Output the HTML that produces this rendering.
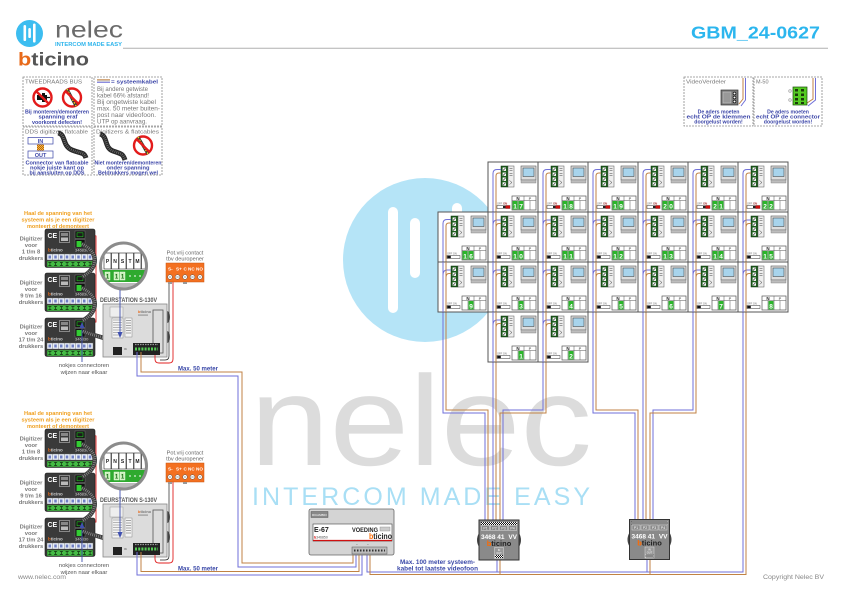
<!DOCTYPE html>
<html><head><meta charset="utf-8"><style>
html,body{margin:0;padding:0;background:#fff;}
svg{display:block;}
</style></head><body>
<svg width="841" height="595" viewBox="0 0 841 595" xmlns="http://www.w3.org/2000/svg" font-family="'Liberation Sans', sans-serif">
<defs>
<pattern id="chk" width="2" height="2" patternUnits="userSpaceOnUse"><rect width="2" height="2" fill="#fff"/><rect width="1" height="1" fill="#111"/><rect x="1" y="1" width="1" height="1" fill="#111"/></pattern>
<pattern id="chkO" width="2" height="2" patternUnits="userSpaceOnUse"><rect width="2" height="2" fill="#f0c040"/><rect width="1" height="1" fill="#c06010"/><rect x="1" y="1" width="1" height="1" fill="#c06010"/></pattern>
<clipPath id="lensclip"><circle cx="123.5" cy="266" r="23"/></clipPath>

<g id="cell">
 <rect x="0" y="0" width="50" height="50" fill="#fff" stroke="#555" stroke-width="1"/>
 <rect x="13" y="4" width="7" height="21" fill="#1d5e1d" stroke="#0a2a0a" stroke-width="0.5"/>
 <g fill="#fff"><rect x="14.6" y="5.5" width="3.4" height="3.4"/><rect x="14.6" y="10.5" width="3.4" height="3.4"/><rect x="14.6" y="15.5" width="3.4" height="3.4"/><rect x="14.6" y="20.3" width="3.4" height="3.4"/></g>
 <path d="M15 8.5l2.6-2.6M15 13.5l2.6-2.6M15 18.5l2.6-2.6M15 23.3l2.6-2.6" stroke="#111" stroke-width="0.6"/>
 <rect x="20" y="4" width="6" height="21" fill="#eee" stroke="#555" stroke-width="0.5"/>
 <path d="M21.5 6.5h3M21.5 8.5h3M21.5 11.5h3M21.5 13.5h3M21.5 18.5l2.5 2l-2.5 2" stroke="#444" stroke-width="0.5" fill="none"/>
 <rect x="33" y="4" width="15" height="14" fill="#ddd" stroke="#555" stroke-width="0.6"/>
 <rect x="35" y="6" width="11" height="8.5" fill="#a8d4ec" stroke="#333" stroke-width="0.5"/>
 <rect x="33" y="18" width="15" height="3" fill="#bdbdbd" stroke="#777" stroke-width="0.4"/>
 <rect x="24" y="34" width="24" height="14" fill="#fff" stroke="#555" stroke-width="0.7"/>
 <path d="M36 34V48M24 38.5H48M30 38.5V48M42 38.5V48" stroke="#555" stroke-width="0.5"/>
 <text x="30" y="38" font-size="4.5" font-weight="bold" text-anchor="middle" fill="#222">N</text>
 <text x="42" y="38" font-size="4" text-anchor="middle" fill="#444">P</text>
 <text x="9" y="42.3" font-size="2.6" fill="#666">OFF ON</text>
 <rect x="9" y="43.5" width="13" height="3" fill="#fff" stroke="#333" stroke-width="0.5"/>
</g>
<g id="swOff"><rect x="9.3" y="43.8" width="3.5" height="2.4" fill="#111"/></g>
<g id="swOn"><rect x="17.5" y="43.5" width="4.5" height="3" fill="#d01010"/><rect x="15" y="44" width="2.5" height="2" fill="#222"/><text x="15.3" y="42.3" font-size="2.6" fill="#d01010">ON</text></g>
<g id="wT" fill="none" stroke-width="1">
 <path d="M13 7.5H9Q5 7.5 5 11.5V50" stroke="#6f6fd8"/>
 <path d="M13 11H11Q8 11 8 14V50" stroke="#c08244"/>
</g>
<g id="wM" fill="none" stroke-width="1">
 <path d="M5 0V50M5 13Q5 8 9 8H13" stroke="#6f6fd8"/>
 <path d="M8 0V50M8 15.5Q8 11.5 11 11.5H13" stroke="#c08244"/>
</g>

<g id="nosign">
 <circle r="9" fill="#fff" stroke="#e31b1b" stroke-width="2.4"/>
</g>

<g id="digi">
 <rect x="0" y="0" width="50" height="38.5" rx="2" fill="#3a3a3a" stroke="#1a1a1a" stroke-width="0.6"/>
 <text x="2.5" y="9" font-size="7" font-weight="bold" fill="#fff">CE</text>
 <rect x="14.5" y="2.5" width="10" height="11" fill="none" stroke="#bbb" stroke-width="0.6"/>
 <rect x="16" y="4" width="7" height="3" fill="#888"/>
 <rect x="16" y="8.5" width="7" height="3.5" fill="#bbb"/>
 <rect x="30" y="2" width="10" height="7.5" fill="#111" stroke="#777" stroke-width="0.5"/>
 <rect x="32" y="3.8" width="6" height="4" fill="#1a1a1a" stroke="#2c2" stroke-width="0.6"/>
 <rect x="30" y="10.5" width="10" height="8.5" fill="#111" stroke="#777" stroke-width="0.5"/>
 <rect x="31.5" y="12" width="5" height="6" fill="#3c3"/>
 <text x="3" y="22.5" font-size="4.5" font-weight="bold"><tspan fill="#e86a1a">b</tspan><tspan fill="#ccc">ticino</tspan></text>
 <text x="30" y="22.5" font-size="4" fill="#ccc">346830</text>
 <rect x="2" y="25" width="46" height="6" fill="#e8eef8" stroke="#666" stroke-width="0.4"/>
 <path d="M7.75 25v6M13.5 25v6M19.25 25v6M25 25v6M30.75 25v6M36.5 25v6M42.25 25v6" stroke="#666" stroke-width="0.4"/>
 <g fill="#6f7fc4"><rect x="3.5" y="26.5" width="2.5" height="3"/><rect x="9.25" y="26.5" width="2.5" height="3"/><rect x="15" y="26.5" width="2.5" height="3"/><rect x="20.75" y="26.5" width="2.5" height="3"/><rect x="26.5" y="26.5" width="2.5" height="3"/><rect x="32.25" y="26.5" width="2.5" height="3"/><rect x="38" y="26.5" width="2.5" height="3"/><rect x="43.75" y="26.5" width="2.5" height="3"/></g>
 <rect x="2" y="32" width="46" height="6" fill="#44bb44" stroke="#222" stroke-width="0.4"/>
 <path d="M3.4 33.5h3M4.9 33.5v3M3.4 36.5h3M9.1 33.5h3M10.6 33.5v3M9.1 36.5h3M14.9 33.5h3M16.4 33.5v3M14.9 36.5h3M20.6 33.5h3M22.1 33.5v3M20.6 36.5h3M26.4 33.5h3M27.9 33.5v3M26.4 36.5h3M32.1 33.5h3M33.6 33.5v3M32.1 36.5h3M37.9 33.5h3M39.4 33.5v3M37.9 36.5h3M43.6 33.5h3M45.1 33.5v3M43.6 36.5h3" stroke="#0f330f" stroke-width="0.7"/>
</g>

<g id="dist">
 <path d="M0 13 Q-4 20 0 27Z" fill="#444"/>
 <path d="M40 13 Q44 20 40 27Z" fill="#444"/>
 <rect x="0" y="0" width="40" height="40" fill="#8a8a8a" stroke="#333" stroke-width="1"/>
 <rect x="2" y="2" width="36" height="3" fill="url(#chk)"/>
 <g fill="none" stroke="#ddd" stroke-width="0.5"><rect x="2.5" y="5.5" width="8" height="5"/><rect x="11.5" y="5.5" width="8" height="5"/><rect x="20.5" y="5.5" width="8" height="5"/><rect x="29.5" y="5.5" width="8" height="5"/></g>
 <g font-size="3.5" fill="#fff" text-anchor="middle"><text x="6.5" y="9.5">P1</text><text x="15.5" y="9.5">P2</text><text x="24.5" y="9.5">P3</text><text x="33.5" y="9.5">P4</text></g>
 <text x="2" y="19" font-size="6.5" font-weight="bold" fill="#fff">3468 41</text>
 <text x="38" y="19" font-size="6.5" font-weight="bold" fill="#fff" text-anchor="end">VV</text>
 <text x="20" y="26" font-size="7.5" font-weight="bold" text-anchor="middle"><tspan fill="#ff6a00">b</tspan><tspan fill="#222">ticino</tspan></text>
 <rect x="15.5" y="27.5" width="9" height="11" fill="#999" stroke="#ddd" stroke-width="0.5"/>
 <text x="20" y="31" font-size="2.6" fill="#fff" text-anchor="middle">IN</text>
 <text x="20" y="34" font-size="2.6" fill="#fff" text-anchor="middle">OUT</text>
 <rect x="16" y="35" width="8" height="3" fill="url(#chk)"/>
</g>

<g id="leftset">
 <g font-size="5.8" font-weight="bold" fill="#f0a020" text-anchor="middle">
  <text x="58" y="215" textLength="68" lengthAdjust="spacingAndGlyphs">Haal de spanning van het</text>
  <text x="58" y="221.5" textLength="73" lengthAdjust="spacingAndGlyphs">systeem als je een digitizer</text>
  <text x="58" y="228" textLength="62" lengthAdjust="spacingAndGlyphs">monteert of demonteert</text>
 </g>
 <g font-size="5.8" font-weight="bold" fill="#7a7a7a" text-anchor="middle">
  <text x="31" y="240.5">Digitizer</text><text x="31" y="247">voor</text><text x="31" y="253.5">1 t/m 8</text><text x="31" y="260">drukkers</text>
  <text x="31" y="284.5">Digitizer</text><text x="31" y="291">voor</text><text x="31" y="297.5">9 t/m 16</text><text x="31" y="304">drukkers</text>
  <text x="31" y="328.5">Digitizer</text><text x="31" y="335">voor</text><text x="31" y="341.5">17 t/m 24</text><text x="31" y="348">drukkers</text>
 </g>
 <path d="M84 233L96 236V322L84 324" fill="none" stroke="#e02020" stroke-width="0.9"/>
 <use href="#digi" x="45" y="229"/>
 <use href="#digi" x="45" y="273"/>
 <use href="#digi" x="45" y="318"/>
 <g fill="none">
  <path d="M82 244C99 252 99 268 82 277M82 288C99 296 99 312 82 321M83 331C100 339 114 336 118 352" stroke="#3a3a3a" stroke-width="4.5"/>
  <path d="M82 244C99 252 99 268 82 277M82 288C99 296 99 312 82 321M83 331C100 339 114 336 118 352" stroke="#9a9a9a" stroke-width="3" stroke-dasharray="0.7 1.3"/>
 </g>
 <text x="100" y="302" font-size="6" font-weight="bold" fill="#555" textLength="57" lengthAdjust="spacingAndGlyphs">DEURSTATION S-130V</text>
 <ellipse cx="167" cy="317" rx="3" ry="6" fill="#555"/>
 <ellipse cx="167" cy="337" rx="3" ry="6" fill="#555"/>
 <rect x="103" y="304" width="64" height="53" fill="#dcdcdc" stroke="#888" stroke-width="0.8"/>
 <rect x="110" y="307" width="13" height="10" fill="#eee" stroke="#999" stroke-width="0.5"/>
 <rect x="112" y="318" width="11" height="20" fill="#f4f4f4" stroke="#888" stroke-width="0.5"/>
 <path d="M113 320h9M113 322.5h9M113 325h9M113 327.5h9M113 330h9M113 332.5h9M113 335h9" stroke="#777" stroke-width="0.5"/>
 <rect x="125" y="318" width="7" height="19" fill="#f4f4f4" stroke="#888" stroke-width="0.5"/>
 <path d="M126 320.5h5M126 323h5M126 325.5h5M126 328h5M126 330.5h5M126 333h5" stroke="#555" stroke-width="0.6"/>
 <text x="138" y="313" font-size="4" font-weight="bold"><tspan fill="#e86a1a">b</tspan><tspan fill="#777">ticino</tspan></text>
 <rect x="138" y="314.5" width="10" height="1.2" fill="#999"/>
 <rect x="153" y="310" width="10" height="43" fill="none" stroke="#555" stroke-width="0.8"/>
 <rect x="133" y="343" width="27" height="12" fill="#222"/>
 <path d="M135 344.5h23" stroke="#999" stroke-width="1.2" stroke-dasharray="1.5 1"/>
 <path d="M135 349h23" stroke="#5c5" stroke-width="3" stroke-dasharray="2 1.2"/>
 <rect x="113" y="347" width="9" height="8" fill="#222"/>
 <text x="124" y="350" font-size="2.5" fill="#333">IN</text>
 <g clip-path="url(#lensclip)">
  <rect x="99" y="241" width="50" height="50" fill="#fff"/>
  <rect x="99" y="283" width="50" height="10" fill="#bbb"/>
  <g fill="#fff" stroke="#222" stroke-width="0.6"><rect x="104" y="253" width="7" height="16"/><rect x="111.5" y="253" width="7" height="16"/><rect x="119" y="253" width="7" height="16"/><rect x="126.5" y="253" width="7" height="16"/><rect x="134" y="253" width="7" height="16"/><rect x="141.5" y="253" width="6" height="16"/></g>
  <g font-size="5" font-weight="bold" fill="#222" text-anchor="middle"><text x="107.5" y="263">P</text><text x="115" y="263">N</text><text x="122.5" y="263">S</text><text x="130" y="263">T</text><text x="137.5" y="263">M</text></g>
  <rect x="100" y="270" width="48" height="12" fill="#2eaa2e"/>
  <g fill="#c8f0b8" stroke="#fff" stroke-width="0.4"><rect x="105" y="272" width="5" height="8"/><rect x="114" y="272" width="5" height="8"/><rect x="120" y="272" width="5" height="8"/></g>
  <g font-size="6" font-weight="bold" fill="#1a6a1a" text-anchor="middle"><text x="107.5" y="278.5">1</text><text x="116.5" y="278.5">1</text><text x="122.5" y="278.5">1</text></g>
  <path d="M129 276h2M134 276h2M139 276h2M143 276h2" stroke="#fff" stroke-width="1"/>
 </g>
 <circle cx="123.5" cy="266" r="23" fill="none" stroke="#8c8c8c" stroke-width="3"/>
 <path d="M120 290V334" stroke="#4050b0" stroke-width="0.9"/>
 <path d="M117.5 332L120 338L122.5 332Z" fill="#4050b0"/>
 <g font-size="5.6" fill="#666" text-anchor="middle"><text x="185" y="254.5">Pot.vrij contact</text><text x="185" y="260.5">tbv deuropener</text></g>
 <path d="M173 282V359Q173 363 169 363H159Q155 363 155 359V355" fill="none" stroke="#e02020" stroke-width="0.9"/>
 <path d="M169 282V356Q169 360 165 360H160" fill="none" stroke="#222" stroke-width="0.7"/>
 <rect x="166" y="263" width="38" height="19" fill="#f37021" stroke="#c85510" stroke-width="0.5"/>
 <g font-size="4.6" font-weight="bold" fill="#fff"><text x="168" y="270.5">S-</text><text x="176" y="270.5">S+</text><text x="183.5" y="270.5">C</text><text x="188" y="270.5">NC</text><text x="196" y="270.5">NO</text></g>
 <g fill="#fff" stroke="#555" stroke-width="0.5"><circle cx="170" cy="277" r="2.3"/><circle cx="177.5" cy="277" r="2.3"/><circle cx="185" cy="277" r="2.3"/><circle cx="192.5" cy="277" r="2.3"/><circle cx="200" cy="277" r="2.3"/></g>
 <path d="M168.8 277h2.4M176.3 277h2.4M183.8 277h2.4M191.3 277h2.4M198.8 277h2.4" stroke="#333" stroke-width="0.5"/>
 <rect x="168" y="282" width="4" height="2" fill="#999"/><rect x="183" y="282" width="4" height="2" fill="#999"/>
 <path d="M82 362V326" stroke="#4050b0" stroke-width="0.9"/>
 <path d="M79.5 328L82 322L84.5 328Z" fill="#4050b0"/>
 <g font-size="5.8" fill="#555" text-anchor="middle"><text x="84" y="367">nokjes connectoren</text><text x="84" y="374">wijzen naar elkaar</text></g>
 <text x="178" y="370.5" font-size="6" font-weight="bold" fill="#3a48a8" textLength="40" lengthAdjust="spacingAndGlyphs">Max. 50 meter</text>
</g>
</defs>

<rect width="841" height="595" fill="#fff"/>

<circle cx="425" cy="260" r="82" fill="#b5e4f7"/>
<rect x="388" y="207" width="10" height="106" rx="5" fill="#fff"/>
<rect x="410" y="218" width="10" height="60" rx="5" fill="#fff"/>
<rect x="452" y="203" width="10" height="60" rx="5" fill="#fff"/>
<text x="250" y="465" font-size="128" fill="#dcdcdc" textLength="342" lengthAdjust="spacingAndGlyphs">nelec</text>
<text x="252" y="505" font-size="25" fill="#a9dff5" textLength="338" lengthAdjust="spacing">INTERCOM MADE EASY</text>

<circle cx="29.5" cy="33.5" r="13.5" fill="#3cbdf0"/>
<rect x="23.5" y="25" width="2.6" height="16" rx="1.3" fill="#fff"/>
<rect x="28.3" y="28" width="2.6" height="10" rx="1.3" fill="#fff"/>
<rect x="33" y="23.5" width="2.6" height="19" rx="1.3" fill="#fff"/>
<text x="55" y="37.5" font-size="23" fill="#6b6b6b" textLength="68" lengthAdjust="spacingAndGlyphs">nelec</text>
<text x="55" y="46" font-size="5.5" font-weight="bold" fill="#2fb5ec" textLength="67" lengthAdjust="spacingAndGlyphs">INTERCOM MADE EASY</text>
<text x="18" y="65.5" font-size="18.5" font-weight="bold" textLength="71" lengthAdjust="spacingAndGlyphs"><tspan fill="#e86a1a">b</tspan><tspan fill="#555">ticino</tspan></text>
<path d="M123 48.3H828" stroke="#b0b0b0" stroke-width="1"/>
<text x="691" y="38.5" font-size="17.5" font-weight="bold" fill="#2cb6ee" textLength="129" lengthAdjust="spacingAndGlyphs">GBM_24-0627</text>

<g fill="none" stroke="#8a8a8a" stroke-width="0.8" stroke-dasharray="2 1">
 <rect x="23" y="77" width="69" height="49"/><rect x="94" y="77" width="68" height="49"/>
 <rect x="23" y="127" width="69" height="48"/><rect x="94" y="127" width="68" height="48"/>
 <rect x="684" y="77" width="69" height="49"/><rect x="754" y="77" width="68" height="49"/>
</g>
<text x="25" y="83.5" font-size="5.5" fill="#777" textLength="57" lengthAdjust="spacingAndGlyphs">TWEEDRAADS BUS</text>
<use href="#nosign" x="42.5" y="97.5"/>
<path d="M37 95h5v-2h3v2h2v5h-2v2h-3v-2h-5z" fill="#111"/>
<path d="M47 97.5h3" stroke="#111" stroke-width="1.2"/>
<path d="M36.1 91.1L48.9 103.9" stroke="#e31b1b" stroke-width="2.4"/>
<use href="#nosign" x="72" y="97.5"/>
<path d="M67 89L76 106" stroke="#333" stroke-width="3"/>
<path d="M67 89L76 106" stroke="#f0d020" stroke-width="1.5" stroke-dasharray="1.5 1.5"/>
<path d="M65.6 91.1L78.4 103.9" stroke="#e31b1b" stroke-width="2.4"/>
<g font-weight="bold" fill="#3c46a8" text-anchor="middle">
 <text x="57" y="113.5" font-size="5" textLength="64" lengthAdjust="spacingAndGlyphs">Bij monteren/demonteren</text>
 <text x="58" y="118.7" font-size="5.5" textLength="39" lengthAdjust="spacingAndGlyphs">spanning eraf</text>
 <text x="57" y="124" font-size="5" textLength="50" lengthAdjust="spacingAndGlyphs">voorkomt defecten!</text>
</g>
<path d="M97 79.8H110" stroke="#c08244" stroke-width="1"/><path d="M97 81H110" stroke="#aaa" stroke-width="0.6"/><path d="M97 82.3H110" stroke="#6f6fd8" stroke-width="1"/>
<text x="111" y="83.5" font-size="5.5" font-weight="bold" fill="#3c46a8" textLength="47" lengthAdjust="spacingAndGlyphs">= systeemkabel</text>
<g font-size="6" fill="#777">
 <text x="97" y="91" textLength="51" lengthAdjust="spacingAndGlyphs">Bij andere getwiste</text>
 <text x="97" y="97.5" textLength="52" lengthAdjust="spacingAndGlyphs">kabel 66% afstand!</text>
 <text x="97" y="104" textLength="59" lengthAdjust="spacingAndGlyphs">Bij ongetwiste kabel</text>
 <text x="97" y="110.5" textLength="63" lengthAdjust="spacingAndGlyphs">max. 50 meter buiten-</text>
 <text x="97" y="117" textLength="59" lengthAdjust="spacingAndGlyphs">post naar videofoon.</text>
 <text x="97" y="123.5" textLength="50" lengthAdjust="spacingAndGlyphs">UTP op aanvraag.</text>
</g>
<text x="25" y="133.5" font-size="5.5" fill="#777" textLength="63" lengthAdjust="spacingAndGlyphs">DDS digitizer: flatcable</text>
<rect x="28" y="137.5" width="25" height="6.5" fill="#fff" stroke="#3c46a8" stroke-width="0.7"/>
<text x="40.5" y="143" font-size="5.5" font-weight="bold" fill="#3c46a8" text-anchor="middle">IN</text>
<rect x="37" y="144.5" width="7" height="6" fill="url(#chkO)"/>
<rect x="28" y="151" width="25" height="7" fill="#fff" stroke="#3c46a8" stroke-width="0.7"/>
<text x="40.5" y="157" font-size="5.5" font-weight="bold" fill="#3c46a8" text-anchor="middle">OUT</text>
<path d="M58 133C66 134 62 146 72 150S84 152 86 158" fill="none" stroke="#2a2a2a" stroke-width="5"/>
<path d="M58 133C66 134 62 146 72 150S84 152 86 158" fill="none" stroke="#777" stroke-width="2.5" stroke-dasharray="0.7 1.3"/>
<g font-weight="bold" fill="#3c46a8" text-anchor="middle" font-size="5.2">
 <text x="57" y="164.5" textLength="63" lengthAdjust="spacingAndGlyphs">Connector van flatcable</text>
 <text x="57" y="169.5" textLength="54" lengthAdjust="spacingAndGlyphs">nokje juiste kant op</text>
 <text x="57" y="174.3" textLength="55" lengthAdjust="spacingAndGlyphs">bij aansluiten op DDS</text>
</g>
<text x="96" y="133.5" font-size="5.5" fill="#777" textLength="63" lengthAdjust="spacingAndGlyphs">Digitizers &amp; flatcables</text>
<path d="M100 134C108 136 104 148 113 151S123 154 125 160" fill="none" stroke="#2a2a2a" stroke-width="5"/>
<path d="M100 134C108 136 104 148 113 151S123 154 125 160" fill="none" stroke="#777" stroke-width="2.5" stroke-dasharray="0.7 1.3"/>
<use href="#nosign" x="143" y="145.5"/>
<path d="M138 137L148 154" stroke="#333" stroke-width="3"/>
<path d="M138 137L148 154" stroke="#f0d020" stroke-width="1.5" stroke-dasharray="1.5 1.5"/>
<path d="M136.6 139.1L149.4 151.9" stroke="#e31b1b" stroke-width="2.4"/>
<g font-weight="bold" fill="#3c46a8" text-anchor="middle" font-size="5.2">
 <text x="128" y="164.5" textLength="67" lengthAdjust="spacingAndGlyphs">Niet monteren/demonteren</text>
 <text x="128" y="169.5" textLength="43" lengthAdjust="spacingAndGlyphs">onder spanning</text>
 <text x="128" y="174.3" textLength="60" lengthAdjust="spacingAndGlyphs">Beldrukkers mogen wel</text>
</g>

<text x="686" y="83.5" font-size="5.5" fill="#777" textLength="40" lengthAdjust="spacingAndGlyphs">VideoVerdeler</text>
<path d="M743 78V99L739 104" fill="none" stroke="#c08244" stroke-width="1"/>
<path d="M745.5 78V100L741 106" fill="none" stroke="#6f6fd8" stroke-width="1"/>
<rect x="721" y="90" width="17" height="15" fill="#7a7a7a" stroke="#333" stroke-width="0.7"/>
<rect x="723" y="92" width="8" height="11" fill="#999" stroke="#ccc" stroke-width="0.5"/>
<g fill="#fff" stroke="#111" stroke-width="0.7"><circle cx="734.5" cy="93.5" r="1.4"/><circle cx="734.5" cy="97.5" r="1.4"/><circle cx="734.5" cy="101.5" r="1.4"/></g>
<g font-weight="bold" fill="#3c46a8" text-anchor="middle" font-size="5.2">
 <text x="718.5" y="113.5">De aders moeten</text>
 <text x="718.5" y="118.5" textLength="64" lengthAdjust="spacingAndGlyphs">echt OP de klemmen</text>
 <text x="718.5" y="123.5">doorgelust worden!</text>
</g>
<text x="756" y="83.5" font-size="5.5" fill="#777">M-50</text>
<path d="M813 78V99L807 103" fill="none" stroke="#c08244" stroke-width="1"/>
<path d="M815.5 78V100L808 106" fill="none" stroke="#6f6fd8" stroke-width="1"/>
<rect x="793" y="87" width="14" height="18" fill="#55cc22" stroke="#1a4a0a" stroke-width="0.7"/>
<g fill="#1a3a0a"><rect x="795" y="89" width="3" height="2.5"/><rect x="795" y="93.5" width="3" height="2.5"/><rect x="795" y="98" width="3" height="2.5"/><rect x="795" y="102" width="3" height="2"/><rect x="801" y="89" width="3" height="2.5"/><rect x="801" y="93.5" width="3" height="2.5"/><rect x="801" y="98" width="3" height="2.5"/><rect x="801" y="102" width="3" height="2"/></g>
<g fill="#ddd" stroke="#888" stroke-width="0.4"><circle cx="790" cy="91" r="1.5"/><circle cx="790" cy="100" r="1.5"/></g>
<g font-weight="bold" fill="#3c46a8" text-anchor="middle" font-size="5.2">
 <text x="788" y="113.5">De aders moeten</text>
 <text x="788" y="118.5" textLength="64" lengthAdjust="spacingAndGlyphs">echt OP de connector</text>
 <text x="788" y="123.5">doorgelust worden!</text>
</g>

<use href="#leftset"/>
<use href="#leftset" y="200"/>

<g fill="none" stroke-width="1">
 <path d="M141 352V372H242V563H353V554" stroke="#c08244"/>
 <path d="M137 352V376H238V567H356V554" stroke="#6f6fd8"/>
 <path d="M141 552V571.5H359V554" stroke="#c08244"/>
 <path d="M137 552V575H362V554" stroke="#6f6fd8"/>
 <path d="M367 554V572H743V312" stroke="#6f6fd8"/>
 <path d="M370 554V574.5H746V312" stroke="#c08244"/>
 <path d="M497 560V572M647 560V572" stroke="#6f6fd8"/>
 <path d="M500 560V574.5M650 560V574.5" stroke="#c08244"/>
 <path d="M443 312V413H485V521" stroke="#6f6fd8"/>
 <path d="M446 312V410H488V521" stroke="#c08244"/>
 <path d="M493 362V521" stroke="#6f6fd8"/>
 <path d="M496 362V521" stroke="#c08244"/>
 <path d="M543 362V410H503V521" stroke="#6f6fd8"/>
 <path d="M546 362V413H500V521" stroke="#c08244"/>
 <path d="M593 312V413H635V520" stroke="#6f6fd8"/>
 <path d="M596 312V410H638V520" stroke="#c08244"/>
 <path d="M643 312V520" stroke="#6f6fd8"/>
 <path d="M646 312V520" stroke="#c08244"/>
 <path d="M693 312V410H653V520" stroke="#6f6fd8"/>
 <path d="M696 312V413H650V520" stroke="#c08244"/>
</g>

<rect x="309" y="509" width="85" height="46" rx="2" fill="#d4d4d4" stroke="#666" stroke-width="0.8"/>
<rect x="311" y="511.5" width="17" height="6" fill="#888" stroke="#444" stroke-width="0.4"/>
<text x="312" y="516" font-size="3" fill="#fff">RICAMBIO</text>
<rect x="313" y="524" width="79" height="17" fill="#fff" stroke="#444" stroke-width="0.6"/>
<text x="314" y="532" font-size="7" font-weight="bold" fill="#222">E-67</text>
<text x="352" y="532" font-size="6" font-weight="bold" fill="#222" textLength="26" lengthAdjust="spacingAndGlyphs">VOEDING</text>
<rect x="380" y="527" width="10" height="4" fill="#ccc" stroke="#888" stroke-width="0.4"/>
<text x="369" y="539" font-size="8" font-weight="bold" textLength="23" lengthAdjust="spacingAndGlyphs"><tspan fill="#ff6a00">b</tspan><tspan fill="#222">ticino</tspan></text>
<text x="314" y="538.5" font-size="3.5" fill="#555"><tspan fill="#d00" font-weight="bold">b</tspan>346850</text>
<path d="M313 540.5H392" stroke="#d01010" stroke-width="1.2"/>
<text x="356" y="545.5" font-size="3" fill="#333">~</text><text x="367" y="545.5" font-size="3" fill="#333">~</text>
<rect x="352" y="547" width="35" height="7" fill="#bbb" stroke="#555" stroke-width="0.5"/>
<path d="M354 550.5h31" stroke="#333" stroke-width="2" stroke-dasharray="1.5 1.5"/>

<use href="#dist" x="479" y="520"/>
<use href="#dist" x="629.5" y="519.5"/>

<g transform="translate(488,162)"><use href="#cell"/><use href="#wT"/><use href="#swOn"/><rect x="24.5" y="39" width="5" height="8.5" fill="#2bb52b"/><rect x="30.5" y="39" width="5" height="8.5" fill="#2bb52b"/><text x="27" y="46.3" font-size="6.5" font-weight="bold" fill="#fff" text-anchor="middle">1</text><text x="33" y="46.3" font-size="6.5" font-weight="bold" fill="#fff" text-anchor="middle">7</text></g>
<g transform="translate(538,162)"><use href="#cell"/><use href="#wT"/><use href="#swOn"/><rect x="24.5" y="39" width="5" height="8.5" fill="#2bb52b"/><rect x="30.5" y="39" width="5" height="8.5" fill="#2bb52b"/><text x="27" y="46.3" font-size="6.5" font-weight="bold" fill="#fff" text-anchor="middle">1</text><text x="33" y="46.3" font-size="6.5" font-weight="bold" fill="#fff" text-anchor="middle">8</text></g>
<g transform="translate(588,162)"><use href="#cell"/><use href="#wT"/><use href="#swOn"/><rect x="24.5" y="39" width="5" height="8.5" fill="#2bb52b"/><rect x="30.5" y="39" width="5" height="8.5" fill="#2bb52b"/><text x="27" y="46.3" font-size="6.5" font-weight="bold" fill="#fff" text-anchor="middle">1</text><text x="33" y="46.3" font-size="6.5" font-weight="bold" fill="#fff" text-anchor="middle">9</text></g>
<g transform="translate(638,162)"><use href="#cell"/><use href="#wT"/><use href="#swOn"/><rect x="24.5" y="39" width="5" height="8.5" fill="#2bb52b"/><rect x="30.5" y="39" width="5" height="8.5" fill="#2bb52b"/><text x="27" y="46.3" font-size="6.5" font-weight="bold" fill="#fff" text-anchor="middle">2</text><text x="33" y="46.3" font-size="6.5" font-weight="bold" fill="#fff" text-anchor="middle">0</text></g>
<g transform="translate(688,162)"><use href="#cell"/><use href="#wT"/><use href="#swOn"/><rect x="24.5" y="39" width="5" height="8.5" fill="#2bb52b"/><rect x="30.5" y="39" width="5" height="8.5" fill="#2bb52b"/><text x="27" y="46.3" font-size="6.5" font-weight="bold" fill="#fff" text-anchor="middle">2</text><text x="33" y="46.3" font-size="6.5" font-weight="bold" fill="#fff" text-anchor="middle">1</text></g>
<g transform="translate(738,162)"><use href="#cell"/><use href="#wT"/><use href="#swOn"/><rect x="24.5" y="39" width="5" height="8.5" fill="#2bb52b"/><rect x="30.5" y="39" width="5" height="8.5" fill="#2bb52b"/><text x="27" y="46.3" font-size="6.5" font-weight="bold" fill="#fff" text-anchor="middle">2</text><text x="33" y="46.3" font-size="6.5" font-weight="bold" fill="#fff" text-anchor="middle">2</text></g>

<g transform="translate(438,212)"><use href="#cell"/><use href="#wT"/><use href="#swOff"/><rect x="24.5" y="39" width="5" height="8.5" fill="#2bb52b"/><rect x="30.5" y="39" width="5" height="8.5" fill="#2bb52b"/><text x="27" y="46.3" font-size="6.5" font-weight="bold" fill="#fff" text-anchor="middle">1</text><text x="33" y="46.3" font-size="6.5" font-weight="bold" fill="#fff" text-anchor="middle">6</text></g>
<g transform="translate(488,212)"><use href="#cell"/><use href="#wM"/><use href="#swOff"/><rect x="24.5" y="39" width="5" height="8.5" fill="#2bb52b"/><rect x="30.5" y="39" width="5" height="8.5" fill="#2bb52b"/><text x="27" y="46.3" font-size="6.5" font-weight="bold" fill="#fff" text-anchor="middle">1</text><text x="33" y="46.3" font-size="6.5" font-weight="bold" fill="#fff" text-anchor="middle">0</text></g>
<g transform="translate(538,212)"><use href="#cell"/><use href="#wM"/><use href="#swOff"/><rect x="24.5" y="39" width="5" height="8.5" fill="#2bb52b"/><rect x="30.5" y="39" width="5" height="8.5" fill="#2bb52b"/><text x="27" y="46.3" font-size="6.5" font-weight="bold" fill="#fff" text-anchor="middle">1</text><text x="33" y="46.3" font-size="6.5" font-weight="bold" fill="#fff" text-anchor="middle">1</text></g>
<g transform="translate(588,212)"><use href="#cell"/><use href="#wM"/><use href="#swOff"/><rect x="24.5" y="39" width="5" height="8.5" fill="#2bb52b"/><rect x="30.5" y="39" width="5" height="8.5" fill="#2bb52b"/><text x="27" y="46.3" font-size="6.5" font-weight="bold" fill="#fff" text-anchor="middle">1</text><text x="33" y="46.3" font-size="6.5" font-weight="bold" fill="#fff" text-anchor="middle">2</text></g>
<g transform="translate(638,212)"><use href="#cell"/><use href="#wM"/><use href="#swOff"/><rect x="24.5" y="39" width="5" height="8.5" fill="#2bb52b"/><rect x="30.5" y="39" width="5" height="8.5" fill="#2bb52b"/><text x="27" y="46.3" font-size="6.5" font-weight="bold" fill="#fff" text-anchor="middle">1</text><text x="33" y="46.3" font-size="6.5" font-weight="bold" fill="#fff" text-anchor="middle">3</text></g>
<g transform="translate(688,212)"><use href="#cell"/><use href="#wM"/><use href="#swOff"/><rect x="24.5" y="39" width="5" height="8.5" fill="#2bb52b"/><rect x="30.5" y="39" width="5" height="8.5" fill="#2bb52b"/><text x="27" y="46.3" font-size="6.5" font-weight="bold" fill="#fff" text-anchor="middle">1</text><text x="33" y="46.3" font-size="6.5" font-weight="bold" fill="#fff" text-anchor="middle">4</text></g>
<g transform="translate(738,212)"><use href="#cell"/><use href="#wM"/><use href="#swOff"/><rect x="24.5" y="39" width="5" height="8.5" fill="#2bb52b"/><rect x="30.5" y="39" width="5" height="8.5" fill="#2bb52b"/><text x="27" y="46.3" font-size="6.5" font-weight="bold" fill="#fff" text-anchor="middle">1</text><text x="33" y="46.3" font-size="6.5" font-weight="bold" fill="#fff" text-anchor="middle">5</text></g>

<g transform="translate(438,262)"><use href="#cell"/><use href="#wM"/><use href="#swOff"/><rect x="30.5" y="39" width="5" height="8.5" fill="#2bb52b"/><text x="33" y="46.3" font-size="6.5" font-weight="bold" fill="#fff" text-anchor="middle">9</text></g>
<g transform="translate(488,262)"><use href="#cell"/><use href="#wM"/><use href="#swOff"/><rect x="30.5" y="39" width="5" height="8.5" fill="#2bb52b"/><text x="33" y="46.3" font-size="6.5" font-weight="bold" fill="#fff" text-anchor="middle">3</text></g>
<g transform="translate(538,262)"><use href="#cell"/><use href="#wM"/><use href="#swOff"/><rect x="30.5" y="39" width="5" height="8.5" fill="#2bb52b"/><text x="33" y="46.3" font-size="6.5" font-weight="bold" fill="#fff" text-anchor="middle">4</text></g>
<g transform="translate(588,262)"><use href="#cell"/><use href="#wM"/><use href="#swOff"/><rect x="30.5" y="39" width="5" height="8.5" fill="#2bb52b"/><text x="33" y="46.3" font-size="6.5" font-weight="bold" fill="#fff" text-anchor="middle">5</text></g>
<g transform="translate(638,262)"><use href="#cell"/><use href="#wM"/><use href="#swOff"/><rect x="30.5" y="39" width="5" height="8.5" fill="#2bb52b"/><text x="33" y="46.3" font-size="6.5" font-weight="bold" fill="#fff" text-anchor="middle">6</text></g>
<g transform="translate(688,262)"><use href="#cell"/><use href="#wM"/><use href="#swOff"/><rect x="30.5" y="39" width="5" height="8.5" fill="#2bb52b"/><text x="33" y="46.3" font-size="6.5" font-weight="bold" fill="#fff" text-anchor="middle">7</text></g>
<g transform="translate(738,262)"><use href="#cell"/><use href="#wM"/><use href="#swOff"/><rect x="30.5" y="39" width="5" height="8.5" fill="#2bb52b"/><text x="33" y="46.3" font-size="6.5" font-weight="bold" fill="#fff" text-anchor="middle">8</text></g>

<g transform="translate(488,312)"><use href="#cell"/><use href="#wM"/><use href="#swOff"/><rect x="30.5" y="39" width="5" height="8.5" fill="#2bb52b"/><text x="33" y="46.3" font-size="6.5" font-weight="bold" fill="#fff" text-anchor="middle">1</text></g>
<g transform="translate(538,312)"><use href="#cell"/><use href="#wM"/><use href="#swOff"/><rect x="30.5" y="39" width="5" height="8.5" fill="#2bb52b"/><text x="33" y="46.3" font-size="6.5" font-weight="bold" fill="#fff" text-anchor="middle">2</text></g>

<g font-size="6" font-weight="bold" fill="#3a48a8" text-anchor="middle">
 <text x="437.5" y="564" textLength="75" lengthAdjust="spacingAndGlyphs">Max. 100 meter systeem-</text>
 <text x="437.5" y="570.3" textLength="81" lengthAdjust="spacingAndGlyphs">kabel tot laatste videofoon</text>
</g>
<text x="18" y="579" font-size="6.5" fill="#888" textLength="48" lengthAdjust="spacingAndGlyphs">www.nelec.com</text>
<text x="763" y="579" font-size="6.5" fill="#888" textLength="61" lengthAdjust="spacingAndGlyphs">Copyright Nelec BV</text>
</svg>
</body></html>
